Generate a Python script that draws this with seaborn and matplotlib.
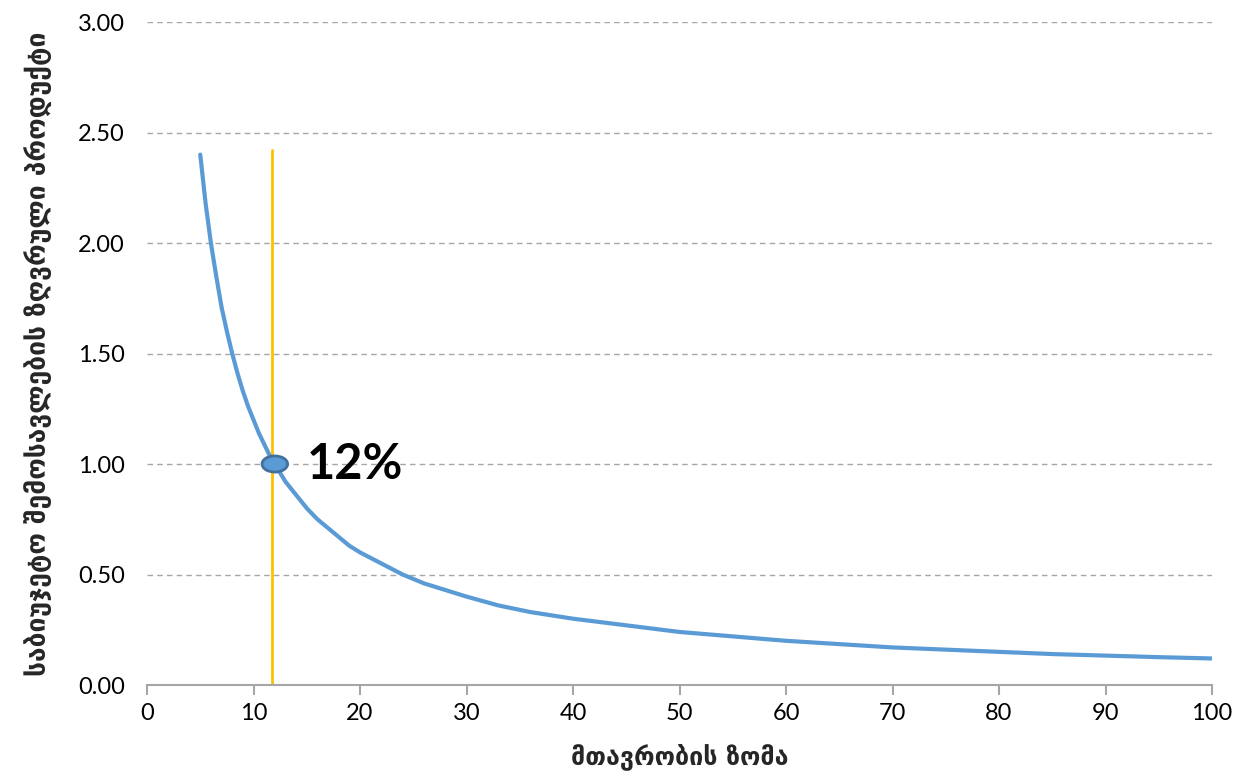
import numpy as np
import pandas as pd
import matplotlib
matplotlib.use("Agg")
import matplotlib.pyplot as plt
import matplotlib.patches
import seaborn as sns

# values
size = [5, 5.5, 6, 6.5, 7, 7.5, 8, 8.5, 9, 9.5, 10, 10.5, 11, 11.5, 12, 13,
        14, 15, 16, 17, 18, 19, 20, 22, 24, 26, 28, 30, 33, 36, 40, 45, 50,
        55, 60, 65, 70, 75, 80, 85, 90, 95, 100]
product = [2.40, 2.18, 2.00, 1.85, 1.71, 1.60, 1.50, 1.41, 1.33, 1.26, 1.20,
           1.14, 1.09, 1.04, 1.00, 0.92, 0.86, 0.80, 0.75, 0.71, 0.67, 0.63,
           0.60, 0.55, 0.50, 0.46, 0.43, 0.40, 0.36, 0.33, 0.30, 0.27, 0.24,
           0.22, 0.20, 0.185, 0.17, 0.16, 0.15, 0.14, 0.133, 0.126, 0.12]
optimum_x = 11.7
optimum_top = 2.42
point_x, point_y = 12, 1.0
point_label = "12%"
xlabel = "მთავრობის ზომა"
ylabel = "საბიუჯეტო შემოსავლების ზღვრული პროდუქტი"

df = pd.DataFrame({"size": size, "product": product})

sns.set_style("white")
plt.rcParams['font.family'] = ['Lato', 'DejaVu Sans']
plt.rcParams['text.color'] = 'black'
plt.rcParams['xtick.color'] = 'black'
plt.rcParams['ytick.color'] = 'black'

fig = plt.figure(figsize=(12.42, 7.77), dpi=100)
ax = fig.add_axes([147 / 1242, 92 / 777, 1065 / 1242, 663 / 777])

sns.lineplot(data=df, x="size", y="product", ax=ax, color="#5B9BD5",
             linewidth=3, zorder=3)
ax.plot([optimum_x, optimum_x], [0, optimum_top], color="#FFC000",
        linewidth=2, zorder=2)

# the marked point (wide ellipse, like the Excel marker)
ell = matplotlib.patches.Ellipse((point_x, point_y), width=2.4, height=0.073,
                                 facecolor="#5B9BD5", edgecolor="#41719C",
                                 linewidth=2, zorder=4)
ax.add_patch(ell)
ax.text(15, point_y, point_label, fontsize=35, fontweight="bold",
        va="center", ha="left", color="black")

ax.set_xlim(0, 100)
ax.set_ylim(0, 3)
ax.set_xticks(range(0, 101, 10))
ax.set_yticks(np.arange(0, 3.01, 0.5))
ax.set_yticklabels([f"{v:.2f}" for v in np.arange(0, 3.01, 0.5)])
for y in np.arange(0.5, 3.01, 0.5):
    ax.axhline(y, color="#A6A6A6", linestyle=(0, (4, 3)), linewidth=1, zorder=1)

for s in ["top", "right", "left"]:
    ax.spines[s].set_visible(False)
ax.spines["bottom"].set_color("#A6A6A6")
ax.spines["bottom"].set_linewidth(1.5)
ax.tick_params(axis="x", direction="out", length=7, width=1.5, color="#A6A6A6",
               labelsize=17, pad=6, bottom=True, labelcolor="black")
ax.tick_params(axis="y", length=0, labelsize=17, pad=16, labelcolor="black")

ax.set_xlabel(xlabel, fontsize=18, fontweight="bold", labelpad=14,
              family=['DejaVu Sans'])
ax.set_ylabel(ylabel, fontsize=19, fontweight="bold", labelpad=18,
              family=['DejaVu Sans'])

fig.savefig("out.png", dpi=100)
